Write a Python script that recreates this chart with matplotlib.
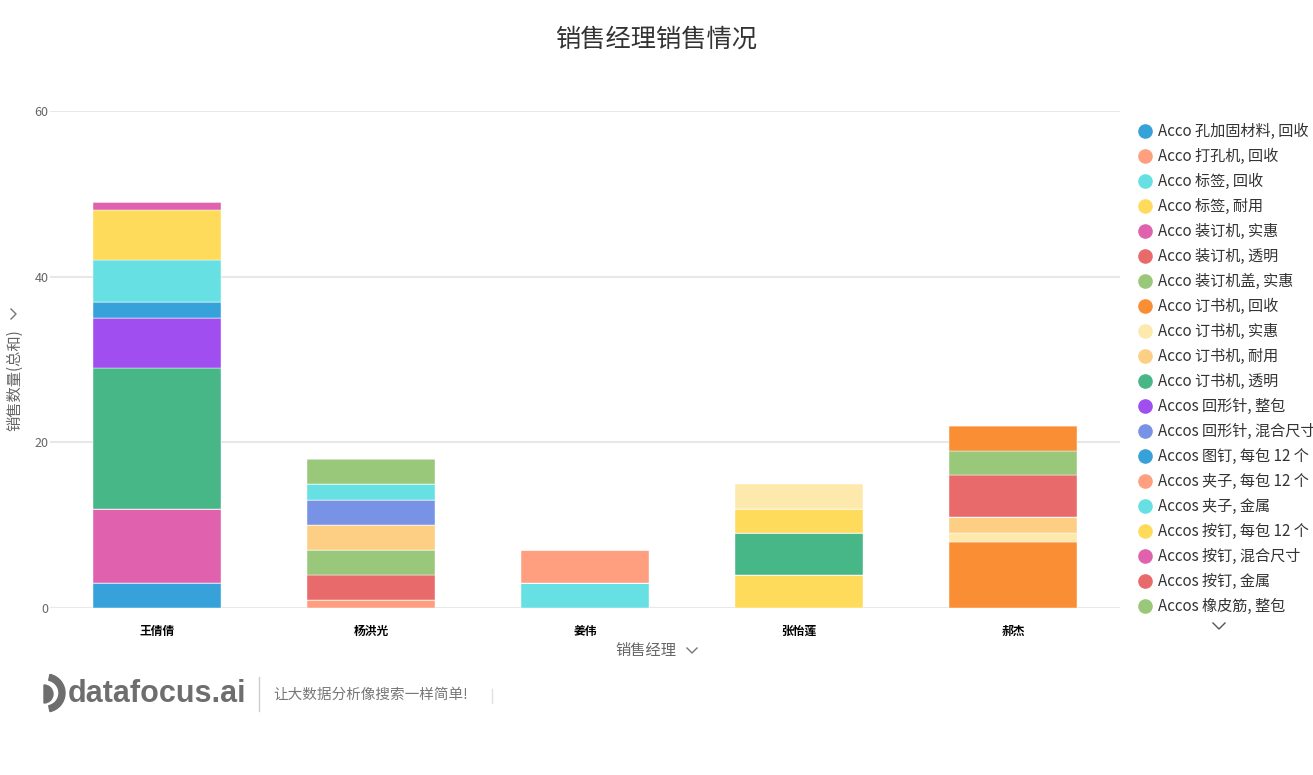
import numpy as np
import matplotlib
matplotlib.use('Agg')
import matplotlib.pyplot as plt
from matplotlib.lines import Line2D
from matplotlib.patches import Wedge

plt.rcParams['font.family'] = ['Noto Sans CJK SC', 'DejaVu Sans']

managers = ['王倩倩', '杨洪光', '姜伟', '张怡莲', '郝杰']
products = [
    'Acco 孔加固材料, 回收', 'Acco 打孔机, 回收', 'Acco 标签, 回收', 'Acco 标签, 耐用',
    'Acco 装订机, 实惠', 'Acco 装订机, 透明', 'Acco 装订机盖, 实惠', 'Acco 订书机, 回收',
    'Acco 订书机, 实惠', 'Acco 订书机, 耐用', 'Acco 订书机, 透明', 'Accos 回形针, 整包',
    'Accos 回形针, 混合尺寸', 'Accos 图钉, 每包 12 个', 'Accos 夹子, 每包 12 个', 'Accos 夹子, 金属',
    'Accos 按钉, 每包 12 个', 'Accos 按钉, 混合尺寸', 'Accos 按钉, 金属', 'Accos 橡皮筋, 整包',
    'Accos 橡皮筋, 混合尺寸', 'Accos 橡皮筋, 金属',
]
# quantity per product (same order as products) for each manager
wang = [3, 0, 0, 0, 9, 0, 0, 0, 0, 0, 17, 6, 0, 2, 0, 5, 6, 1, 0, 0, 0, 0]
yang = [0, 1, 0, 0, 0, 3, 3, 0, 0, 3, 0, 0, 3, 0, 0, 2, 0, 0, 0, 3, 0, 0]
jiang = [0, 0, 3, 0, 0, 0, 0, 0, 0, 0, 0, 0, 0, 0, 4, 0, 0, 0, 0, 0, 0, 0]
zhang = [0, 0, 0, 4, 0, 0, 0, 0, 0, 0, 5, 0, 0, 0, 0, 0, 3, 0, 0, 0, 0, 3]
hao = [0, 0, 0, 0, 0, 0, 0, 8, 1, 2, 0, 0, 0, 0, 0, 0, 0, 0, 5, 3, 3, 0]

palette = ['#37A2DA', '#FF9F7F', '#67E0E3', '#FFDB5C', '#E062AE', '#E96A6A', '#99C87A',
           '#FA8E35', '#FEE9AC', '#FCCF85', '#48B787', '#A04EF0', '#7893E6']

W, H = 1313, 775
fig = plt.figure(figsize=(W / 100, H / 100), dpi=100)
ax = fig.add_axes([50 / W, (H - 608) / H, 1070 / W, 497 / H])

data = np.array([wang, yang, jiang, zhang, hao]).T
x = np.arange(len(managers))
bottom = np.zeros(len(managers))
for i, name in enumerate(products):
    ax.bar(x, data[i], 0.6, bottom=bottom, color=palette[i % len(palette)],
           edgecolor='white', linewidth=0.3, zorder=3)
    bottom += data[i]

ax.set_xlim(-0.5, 4.5)
ax.set_ylim(0, 60)
ax.set_yticks([0, 20, 40, 60])
ax.set_xticks(x)
ax.set_xticklabels(managers, fontsize=8.5, color='#000', fontweight='bold')
ax.grid(axis='y', color='#E8E8E8', linewidth=1.5, zorder=0)
ax.tick_params(axis='y', length=0, pad=1, labelsize=9, labelcolor='#666')
ax.tick_params(axis='x', length=0, pad=12)
for s in ax.spines.values():
    s.set_visible(False)


def chevron(pts, color='#777'):
    # pts in pixel coords from the top-left corner
    xs = [p[0] / W for p in pts]
    ys = [1 - p[1] / H for p in pts]
    fig.add_artist(Line2D(xs, ys, color=color, linewidth=1, transform=fig.transFigure))


fig.text(0.5, 1 - 40 / H, '销售经理销售情况', ha='center', va='center', fontsize=18.2, color='#333')
fig.text(615 / W, 1 - 651 / H, '销售经理', ha='left', va='center', fontsize=11, color='#666')
chevron([(687, 648), (692, 653), (697, 648)])
fig.text(15 / W, 1 - 380 / H, '销售数量(总和)', rotation=90, ha='center', va='center',
         fontsize=11, color='#666')
chevron([(11, 309), (16, 314), (11, 319)])

# legend (first page)
for i, name in enumerate(products[:20]):
    yy = 1 - (131 + 25 * i) / H
    fig.add_artist(Line2D([1145 / W], [yy], marker='o', markersize=9.5, color=palette[i % 13],
                          linestyle='none', transform=fig.transFigure))
    fig.text(1158 / W, yy, name, ha='left', va='center', fontsize=10.9, color='#333')
chevron([(1213, 623), (1219, 629), (1225, 623)], color='#555')

# watermark
lc = '#6E6E6E'
fig.add_artist(Wedge((44, H - 694), 9, -90, 90, color=lc, transform=None))
fig.add_artist(Wedge((46, H - 693), 19, -78, 78, width=6, color=lc, transform=None))
fig.text(68 / W, 1 - 694 / H, 'datafocus.ai', ha='left', va='center', fontsize=22,
         fontweight='bold', color=lc, family='Liberation Sans')
fig.add_artist(Line2D([259 / W, 259 / W], [1 - 677 / H, 1 - 711 / H], color='#CCCCCC',
                      linewidth=1, transform=fig.transFigure))
fig.text(273 / W, 1 - 695 / H, '让大数据分析像搜索一样简单!', ha='left', va='center',
         fontsize=10.5, color='#777')
fig.add_artist(Line2D([492 / W, 492 / W], [1 - 689 / H, 1 - 703 / H], color='#E0E0E0',
                      linewidth=1, transform=fig.transFigure))

fig.savefig('out.png', dpi=100, facecolor='white')
